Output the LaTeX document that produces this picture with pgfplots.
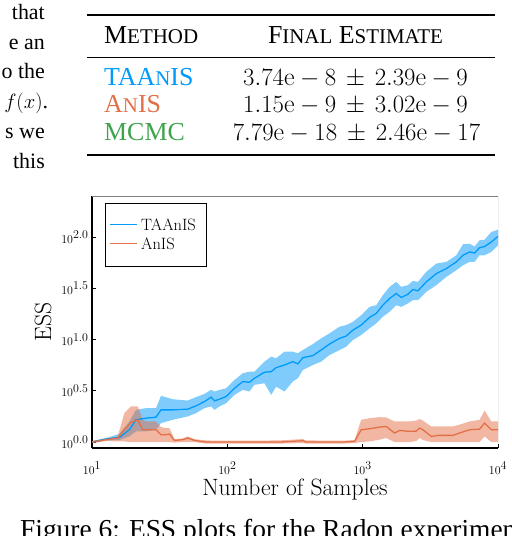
\documentclass[border=0pt]{standalone}
\usepackage{fontspec}
\usepackage{pgfplots}
\pgfplotsset{compat=1.18}
\usepackage{pgfplotstable}
\usepgfplotslibrary{fillbetween}
\newfontfamily\tms{Liberation Serif}
\definecolor{jblue}{RGB}{0,154,250}
\definecolor{jorange}{RGB}{227,111,71}
\definecolor{jgreen}{RGB}{62,164,78}
\newcommand\smc[1]{{\fontsize{21}{24}\selectfont #1}}
\DeclareMathSizes{13}{13}{12}{9}

\pgfplotstableread{
x m lo hi
1.000 0.000 -0.010 0.010
1.104 0.029 0.016 0.039
1.202 0.045 0.020 0.080
1.276 0.120 0.055 0.200
1.325 0.217 0.104 0.314
1.399 0.233 0.104 0.331
1.473 0.243 0.120 0.331
1.510 0.314 0.185 0.451
1.596 0.314 0.217 0.418
1.707 0.321 0.250 0.405
1.769 0.353 0.282 0.438
1.831 0.395 0.331 0.470
1.880 0.438 0.347 0.509
1.905 0.402 0.314 0.493
1.942 0.418 0.347 0.509
1.991 0.444 0.379 0.525
2.053 0.525 0.460 0.606
2.114 0.590 0.509 0.671
2.163 0.583 0.493 0.687
2.200 0.622 0.558 0.687
2.274 0.681 0.574 0.784
2.324 0.687 0.460 0.833
2.361 0.726 0.541 0.817
2.422 0.752 0.493 0.882
2.484 0.784 0.590 0.882
2.521 0.762 0.622 0.866
2.558 0.823 0.703 0.898
2.632 0.843 0.752 0.956
2.693 0.898 0.784 1.011
2.755 0.956 0.849 1.060
2.829 1.011 0.898 1.125
2.878 1.034 0.930 1.141
2.928 1.092 0.995 1.173
2.989 1.141 1.044 1.238
3.051 1.216 1.109 1.319
3.100 1.254 1.157 1.335
3.149 1.335 1.222 1.433
3.199 1.400 1.271 1.514
3.248 1.449 1.335 1.562
3.285 1.410 1.319 1.514
3.334 1.442 1.352 1.530
3.371 1.488 1.384 1.572
3.408 1.475 1.384 1.562
3.470 1.562 1.465 1.660
3.544 1.643 1.530 1.741
3.618 1.692 1.611 1.757
3.692 1.757 1.676 1.822
3.741 1.822 1.724 1.929
3.790 1.854 1.757 1.935
3.827 1.844 1.757 1.907
3.864 1.896 1.822 1.968
3.901 1.907 1.822 1.974
3.950 1.951 1.854 2.049
4.000 2.006 1.918 2.071
}\taanis

\pgfplotstableread{
x m lo hi
1.000 0.000 -0.010 0.010
1.104 0.023 0.010 0.035
1.190 0.039 0.006 0.055
1.239 0.120 0.006 0.282
1.288 0.191 0.000 0.347
1.338 0.217 0.000 0.347
1.375 0.120 0.000 0.217
1.399 0.120 0.000 0.201
1.473 0.120 0.000 0.201
1.510 0.071 0.000 0.146
1.547 0.071 0.000 0.136
1.572 0.078 0.000 0.136
1.609 0.016 -0.005 0.029
1.670 0.023 0.000 0.035
1.707 0.039 0.000 0.055
1.757 0.016 0.000 0.029
1.843 0.000 -0.015 0.016
1.942 0.000 -0.015 0.013
2.139 0.000 -0.015 0.013
2.385 0.000 -0.015 0.016
2.558 0.013 -0.010 0.029
2.582 0.000 -0.015 0.016
2.854 0.000 -0.015 0.013
2.940 0.006 -0.010 0.020
2.989 0.120 0.000 0.217
3.051 0.130 0.006 0.233
3.125 0.146 0.023 0.243
3.174 0.152 0.039 0.240
3.236 0.088 0.000 0.201
3.272 0.113 0.000 0.201
3.347 0.104 0.000 0.201
3.396 0.107 0.010 0.210
3.420 0.136 0.039 0.224
3.445 0.120 0.020 0.210
3.507 0.055 0.000 0.152
3.556 0.065 0.000 0.152
3.667 0.065 0.000 0.152
3.729 0.094 0.000 0.175
3.790 0.120 0.000 0.201
3.864 0.126 0.000 0.217
3.901 0.185 0.055 0.308
3.950 0.120 0.000 0.201
4.000 0.120 0.000 0.201
}\anis

\begin{document}
\begin{tikzpicture}
\begin{axis}[
  at={(92bp,-448bp)}, anchor=south west,
  width=406bp, height=252bp, scale only axis,
  xmin=1, xmax=4, ymin=-0.058, ymax=2.40,
  axis lines*=left,
  axis line style={-, line width=1.2bp, black},
  xtick={1,2,3,4},
  xticklabels={$10^{1}$,$10^{2}$,$10^{3}$,$10^{4}$},
  ytick={0,0.5,1,1.5,2},
  yticklabels={$10^{0.0}$,$10^{0.5}$,$10^{1.0}$,$10^{1.5}$,$10^{2.0}$},
  tick align=inside,
  major tick length=4bp,
  tick style={black, line width=0.8bp},
  ticklabel style={font=\fontsize{13}{15}\selectfont},
  xticklabel style={anchor=base, yshift=-26bp},
  xlabel={Number of Samples},
  ylabel={ESS},
  xlabel style={at={(axis description cs:0.5,0)}, anchor=base, yshift=-47bp, font=\fontsize{23.7}{26}\selectfont},
  ylabel style={at={(axis description cs:-0.1207,0.5)}, rotate=0, anchor=center, font=\fontsize{23.7}{26}\selectfont},
]
\addplot[draw=none, name path=tu, forget plot] table[x=x,y=hi]{\taanis};
\addplot[draw=none, name path=tl, forget plot] table[x=x,y=lo]{\taanis};
\addplot[fill=jblue, fill opacity=0.5, draw=none, forget plot] fill between[of=tu and tl];
\addplot[jblue, line width=1.3bp, forget plot] table[x=x,y=m]{\taanis};
\addplot[draw=none, name path=au, forget plot] table[x=x,y=hi]{\anis};
\addplot[draw=none, name path=al, forget plot] table[x=x,y=lo]{\anis};
\addplot[fill=jorange, fill opacity=0.5, draw=none, forget plot] fill between[of=au and al];
\addplot[jorange, line width=1.3bp, forget plot] table[x=x,y=m]{\anis};
\draw[gray, line width=0.6bp] (rel axis cs:0,1) -- (rel axis cs:1,1) -- (rel axis cs:1,0);
\end{axis}
% legend
\draw[black, line width=1bp, fill=white] (105bp,-203bp) rectangle (206bp,-266bp);
\draw[jblue, line width=1.5bp] (110bp,-224.5bp) -- (137bp,-224.5bp);
\draw[jorange, line width=1.5bp] (110bp,-243.5bp) -- (137bp,-243.5bp);
\node[anchor=base west, inner sep=0pt, font=\fontsize{16.5}{18}\selectfont] at (141bp,-230bp) {TAAnIS};
\node[anchor=base west, inner sep=0pt, font=\fontsize{16.5}{18}\selectfont] at (141bp,-249bp) {AnIS};
\path[use as bounding box] (0bp,0bp) rectangle (512bp,-536bp);
% body text fragments
\begin{scope}[every node/.style={inner sep=0pt, font=\tms\fontsize{22}{27}\selectfont}]
\node[anchor=base east] at (45bp,-19.5bp) {that};
\node[anchor=base east] at (45bp,-49.2bp) {e an};
\node[anchor=base east] at (45bp,-78.9bp) {o the};
\node[anchor=base east] at (48.3bp,-108.6bp) {$f(x)$.};
\node[anchor=base east] at (45bp,-138.3bp) {s we};
\node[anchor=base east] at (45bp,-168bp) {this};
\end{scope}
% table
\begin{scope}[every node/.style={inner sep=0pt, font=\tms\fontsize{26}{30}\selectfont}]
\draw[line width=2bp] (87bp,-14.7bp) -- (495bp,-14.7bp);
\draw[line width=1.2bp] (87bp,-57.3bp) -- (495bp,-57.3bp);
\draw[line width=2bp] (87bp,-155bp) -- (495bp,-155bp);
\node[anchor=base west] at (104bp,-43.3bp) {M\smc{ETHOD}};
\node[anchor=base] at (355.5bp,-43.3bp) {F\smc{INAL} E\smc{STIMATE}};
\node[anchor=base west, text=jblue] at (104bp,-85bp) {TAA\smc{N}IS};
\node[anchor=base west, text=jorange] at (104bp,-112.5bp) {A\smc{N}IS};
\node[anchor=base west, text=jgreen] at (104bp,-140.5bp) {MCMC};
\node[anchor=base] at (355.5bp,-85bp) {$3.74\mathrm{e}-8\,\pm\,2.39\mathrm{e}-9$};
\node[anchor=base] at (355.5bp,-112.5bp) {$1.15\mathrm{e}-9\,\pm\,3.02\mathrm{e}-9$};
\node[anchor=base] at (356.5bp,-140.5bp) {$7.79\mathrm{e}-18\,\pm\,2.46\mathrm{e}-17$};
\end{scope}
% caption
\node[anchor=base west, inner sep=0pt, font=\tms\fontsize{27.5}{32}\selectfont] at (20bp,-538.5bp) {Figure 6: ESS plots for the Radon experiment};
\end{tikzpicture}
\end{document}
